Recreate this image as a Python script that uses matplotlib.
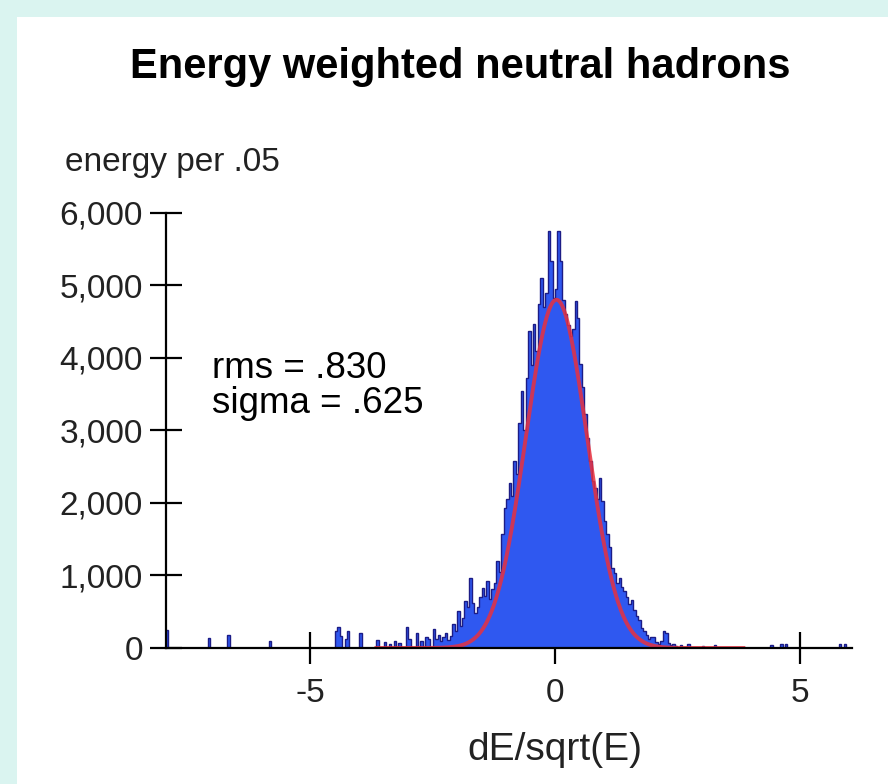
import numpy as np
import matplotlib
matplotlib.use('Agg')
import matplotlib.pyplot as plt
from matplotlib.patches import Rectangle
from matplotlib.ticker import FuncFormatter

# energy per .05 bin, core region from -2.5 to 2.5 (10 bins per row)
core_start = -2.5
core_counts = [
    260, 120, 180, 90, 150, 200, 110, 170, 330, 240,
    510, 300, 420, 650, 560, 970, 620, 480, 560, 700,
    830, 720, 920, 680, 810, 900, 1200, 1050, 1570, 1930,
    2050, 2280, 2100, 2580, 2400, 3100, 3540, 3000, 3720, 4370,
    3900, 4460, 4100, 4740, 5100, 4700, 4900, 5750, 5330, 4820,
    4950, 5750, 5330, 4800, 4600, 4450, 4300, 4400, 4780, 4550,
    3910, 3600, 3220, 2900, 2580, 2300, 2200, 2050, 2350, 2030,
    1750, 1570, 1390, 1100, 1030, 900, 970, 840, 780, 700,
    600, 660, 520, 440, 380, 280, 230, 180, 120, 150,
    150, 80, 60, 90, 240, 200, 70, 40, 60, 30,
]

# isolated bins in the tails (bin centre, energy)
tail_centres = [-7.925, -7.075, -6.675, -5.825, -4.475, -4.425, -4.375, -4.275,
                -4.225, -3.975, -3.625, -3.475, -3.375, -3.275, -3.175, -3.025,
                -2.975, -2.825, -2.725, -2.625, -2.575,
                2.575, 2.725, 3.025, 3.275, 4.425, 4.625, 4.725, 5.825, 5.925]
tail_counts = [250, 135, 180, 90, 230, 290, 160, 120,
               240, 210, 110, 80, 60, 95, 70, 290,
               120, 200, 100, 150, 120,
               40, 50, 30, 40, 40, 50, 50, 50, 60]

# gaussian fit
fit_amp = 4800
fit_mean = 0.03
fit_sigma = 0.625
fit_rms = 0.830
fit_range = (-3.65, 3.85)

bin_width = 0.05
x_min, x_max = -7.95, 6.07

# put everything on one grid of .05 bins
edges = np.round(np.arange(-8.0, 6.1 + 1e-9, bin_width), 3)
counts = np.zeros(len(edges) - 1)
i0 = int(round((core_start - edges[0]) / bin_width))
counts[i0:i0 + len(core_counts)] = core_counts
for c, h in zip(tail_centres, tail_counts):
    counts[int(np.floor((c - edges[0]) / bin_width))] = h

fig = plt.figure(figsize=(8.88, 7.84), dpi=100, facecolor='#daf4f0')
fig.patches.append(Rectangle((17 / 888, 0), 1, 1 - 17 / 784,
                             transform=fig.transFigure, facecolor='white',
                             edgecolor='none', zorder=-5))

ax = fig.add_axes([166 / 888, 136 / 784, (852 - 166) / 888, (571.3 - 136) / 784])
ax.set_facecolor('none')
ax.set_zorder(2)

ax.stairs(counts, edges, fill=True, color='#2f58f0', zorder=2)
ax.stairs(counts, edges, color='#1c1c86', linewidth=1.0, zorder=3)

xf = np.linspace(fit_range[0], fit_range[1], 600)
yf = fit_amp * np.exp(-0.5 * ((xf - fit_mean) / fit_sigma) ** 2)
ax.plot(xf, yf, color='#e8303e', linewidth=2.8, alpha=0.85, zorder=4)

ax.set_xlim(x_min, x_max)
ax.set_ylim(0, 6000)
ax.set_xticks([-5, 0, 5])
ax.set_xticklabels(['-5', '0', '5'])
ax.set_yticks(range(0, 6001, 1000))
ax.yaxis.set_major_formatter(FuncFormatter(lambda v, p: f'{int(v):,}'))

for s in ['top', 'right']:
    ax.spines[s].set_visible(False)
for s in ['left', 'bottom']:
    ax.spines[s].set_linewidth(1.6)
    ax.spines[s].set_color('black')
    ax.spines[s].set_zorder(5)

ax.tick_params(axis='both', direction='inout', length=23, width=1.6, colors='black')
ax.tick_params(axis='x', pad=10, labelsize=24, labelcolor='#222222')
ax.tick_params(axis='y', pad=5, labelsize=24, labelcolor='#222222')
for lbl in ax.get_xticklabels() + ax.get_yticklabels():
    lbl.set_fontfamily('Liberation Sans')

fig.text(460 / 888, 1 - 67 / 784, 'Energy weighted neutral hadrons',
         ha='center', va='center', fontsize=30, fontweight='bold',
         family='Liberation Sans')
fig.text(65 / 888, 1 - 162 / 784, 'energy per .05', ha='left', va='center',
         fontsize=24, family='Liberation Sans', color='#222222')
fig.text(555 / 888, 1 - 750 / 784, 'dE/sqrt(E)', ha='center', va='center',
         fontsize=28, family='Liberation Sans', color='#222222')
fig.text(212 / 888, 1 - 378 / 784, f'rms = {fit_rms:.3f}'.replace('0.', '.'),
         ha='left', va='baseline', fontsize=26.5, family='Liberation Sans')
fig.text(212 / 888, 1 - 413 / 784, f'sigma = {fit_sigma:.3f}'.replace('0.', '.'),
         ha='left', va='baseline', fontsize=26.5, family='Liberation Sans')

fig.savefig('out.png', dpi=100, facecolor=fig.get_facecolor())
